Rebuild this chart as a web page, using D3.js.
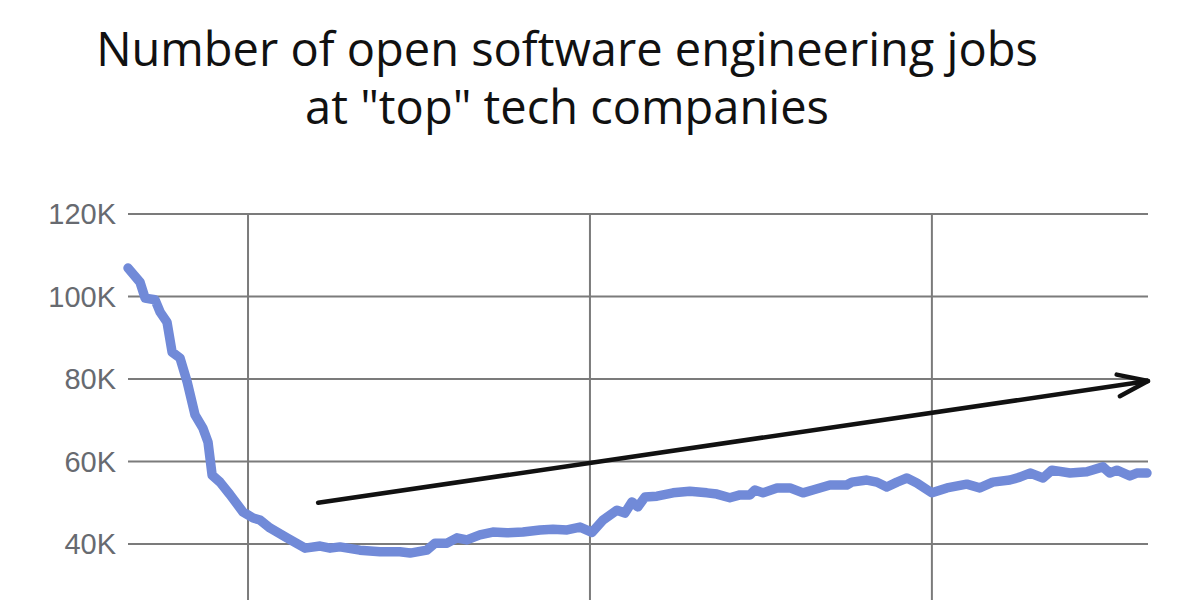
<!DOCTYPE html>
<html>
<head>
<meta charset="utf-8">
<script src="https://cdn.jsdelivr.net/npm/d3@7"></script>
<style>
  html, body { margin: 0; padding: 0; background: #ffffff; }
  svg { display: block; }
</style>
</head>
<body>
<svg id="chart" width="1200" height="600"></svg>
<script>
// ---- data ----
const titleLines = ["Number of open software engineering jobs", "at \"top\" tech companies"];

// time in decimal years
const years = [2022.649, 2022.684, 2022.699, 2022.728, 2022.743, 2022.763, 2022.778, 2022.801, 2022.822, 2022.845,
  2022.868, 2022.883, 2022.895, 2022.918, 2022.947, 2022.985, 2023.015, 2023.035, 2023.064, 2023.114,
  2023.167, 2023.211, 2023.240, 2023.269, 2023.327, 2023.386, 2023.444, 2023.474, 2023.523, 2023.547,
  2023.582, 2023.611, 2023.640, 2023.678, 2023.716, 2023.757, 2023.804, 2023.854, 2023.892, 2023.933,
  2023.971, 2024.006, 2024.038, 2024.079, 2024.102, 2024.123, 2024.140, 2024.161, 2024.196, 2024.243,
  2024.292, 2024.342, 2024.371, 2024.409, 2024.439, 2024.468, 2024.482, 2024.506, 2024.547, 2024.585,
  2024.623, 2024.652, 2024.702, 2024.751, 2024.766, 2024.810, 2024.839, 2024.868, 2024.898, 2024.927,
  2024.956, 2025.000, 2025.044, 2025.102, 2025.140, 2025.178, 2025.228, 2025.257, 2025.287, 2025.325,
  2025.351, 2025.404, 2025.453, 2025.500, 2025.520, 2025.541, 2025.579, 2025.599, 2025.629];

// open jobs, thousands
const jobs = [106.9, 103.5, 99.6, 99.2, 96.2, 93.8, 86.5, 85.1, 79.3, 71.3,
  68.1, 64.7, 56.7, 55.0, 52.0, 47.8, 46.3, 45.8, 43.9, 41.5,
  39.0, 39.5, 39.0, 39.3, 38.5, 38.1, 38.1, 37.8, 38.5, 40.2,
  40.2, 41.5, 41.0, 42.2, 42.9, 42.7, 42.9, 43.4, 43.6, 43.4,
  44.1, 42.8, 45.8, 48.2, 47.5, 50.2, 49.0, 51.4, 51.6, 52.4,
  52.8, 52.4, 52.1, 51.2, 51.9, 51.9, 53.1, 52.4, 53.6, 53.6,
  52.4, 53.1, 54.3, 54.3, 55.0, 55.5, 55.0, 53.8, 55.0, 56.0,
  54.8, 52.4, 53.6, 54.5, 53.6, 55.0, 55.5, 56.2, 57.2, 56.0,
  57.9, 57.2, 57.5, 58.7, 57.2, 57.9, 56.5, 57.2, 57.2];

const yTicks = [40, 60, 80, 100, 120];
const yTickLabels = ["40K", "60K", "80K", "100K", "120K"];
const xTicks = [2023, 2024, 2025];

// trend arrow annotation (data units)
const arrowStart = [2023.205, 50.0];
const arrowEnd = [2025.632, 79.5];

// ---- layout ----
const svg = d3.select("#chart");
const plot = { left: 128, right: 1148, top: 214, bottom: 544 };

const x = d3.scaleLinear().domain([2022.649, 2025.632]).range([plot.left, plot.right]);
const y = d3.scaleLinear().domain([40, 120]).range([plot.bottom, plot.top]);

const gridColor = "#7b7b7b";

// horizontal gridlines
svg.append("g").selectAll("line").data(yTicks).join("line")
  .attr("x1", x.range()[0]).attr("x2", x.range()[1])
  .attr("y1", d => y(d)).attr("y2", d => y(d))
  .attr("stroke", gridColor).attr("stroke-width", 2);

// vertical gridlines
svg.append("g").selectAll("line").data(xTicks).join("line")
  .attr("x1", d => x(d)).attr("x2", d => x(d))
  .attr("y1", y(120)).attr("y2", 600)
  .attr("stroke", gridColor).attr("stroke-width", 2);

// y tick labels
svg.append("g").selectAll("text").data(yTicks).join("text")
  .attr("x", plot.left - 12)
  .attr("y", d => y(d))
  .attr("dy", "0.36em")
  .attr("text-anchor", "end")
  .attr("font-family", "'Liberation Sans', Arial, sans-serif")
  .attr("font-size", 29)
  .attr("fill", "#676a70")
  .text((d, i) => yTickLabels[i]);

// data line
const line = d3.line()
  .x((d, i) => x(years[i]))
  .y(d => y(d))
  .curve(d3.curveLinear);

svg.append("path")
  .datum(jobs)
  .attr("d", line)
  .attr("fill", "none")
  .attr("stroke", "#718ad8")
  .attr("stroke-width", 9.5)
  .attr("stroke-linejoin", "round")
  .attr("stroke-linecap", "round");

// arrow
const ax0 = x(arrowStart[0]), ay0 = y(arrowStart[1]);
const ax1 = x(arrowEnd[0]), ay1 = y(arrowEnd[1]);
const ang = Math.atan2(ay0 - ay1, ax0 - ax1);
const headLen = 32, headAng = 20 * Math.PI / 180;
const arrowG = svg.append("g")
  .attr("fill", "none").attr("stroke", "#111").attr("stroke-width", 4.5)
  .attr("stroke-linecap", "round").attr("stroke-linejoin", "round");
arrowG.append("line").attr("x1", ax0).attr("y1", ay0).attr("x2", ax1).attr("y2", ay1);
arrowG.append("path").attr("d", d3.line()([
  [ax1 + headLen * Math.cos(ang + headAng), ay1 + headLen * Math.sin(ang + headAng)],
  [ax1, ay1],
  [ax1 + headLen * Math.cos(ang - headAng), ay1 + headLen * Math.sin(ang - headAng)]
]));

// title
svg.append("g").selectAll("text").data(titleLines).join("text")
  .attr("x", 567)
  .attr("y", (d, i) => 66 + i * 58)
  .attr("text-anchor", "middle")
  .attr("font-family", "'Open Sans', sans-serif")
  .attr("font-size", 47)
  .attr("fill", "#111")
  .text(d => d);
</script>
</body>
</html>
